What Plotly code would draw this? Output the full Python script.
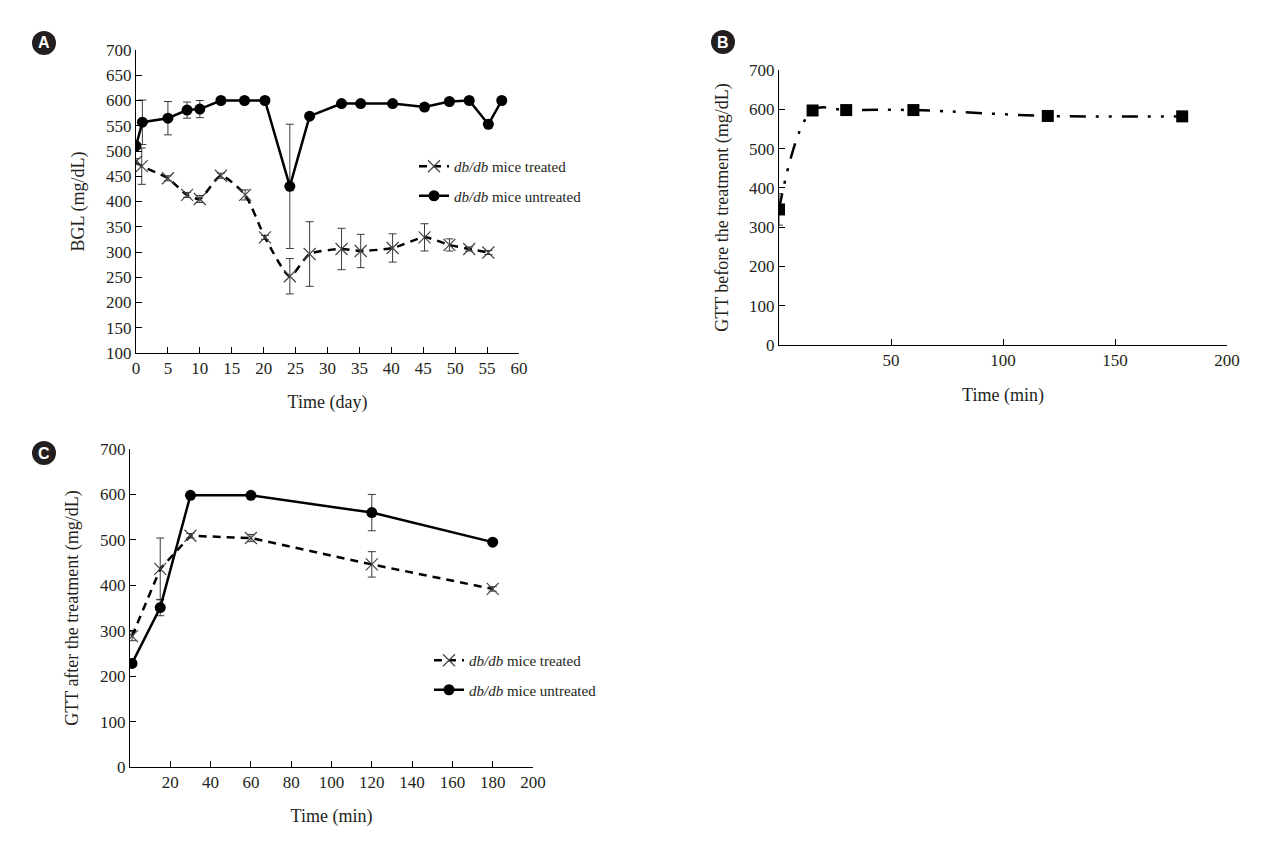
import plotly.graph_objects as go

# ---------------- Data ----------------
# Panel A: blood glucose level over days
a_days_untreated = [0, 1, 5, 8, 10, 13.3, 17, 20.2, 24.1, 27.2, 32.2, 35.2, 40.2, 45.2, 49.1, 52.2, 55.2, 57.3]
a_untreated = [510, 557, 565, 581, 583, 600, 600, 600, 430, 569, 594, 594, 594, 587, 598, 600, 553, 600]
a_untreated_err = [5, 44, 33, 16, 17, 0, 0, 0, 123, 0, 0, 0, 0, 7, 0, 0, 0, 0]

a_days_treated = [0, 0.9, 5, 8, 10, 13.3, 17.1, 20.2, 24.1, 27.2, 32.2, 35.2, 40.2, 45.2, 49.1, 52.2, 55.2]
a_treated = [479, 470, 446, 413, 405, 451, 413, 329, 252, 296, 306, 302, 308, 329, 314, 306, 299]
a_treated_err = [6, 36, 5, 5, 7, 5, 10, 4, 35, 64, 41, 33, 28, 27, 12, 4, 4]

# Panel B: GTT before the treatment
b_time = [0, 15, 30, 60, 120, 180]
b_gtt = [345, 597, 598, 598, 583, 582]
b_err = [40, 0, 0, 0, 0, 0]

# Panel C: GTT after the treatment
c_time = [1, 15, 30, 60, 120, 180]
c_treated = [288, 436, 509, 504, 446, 392]
c_treated_err = [10, 68, 5, 8, 28, 5]
c_untreated = [228, 351, 598, 598, 560, 495]
c_untreated_err = [6, 18, 0, 0, 40, 0]

a_xticks = list(range(0, 61, 5))
a_yticks = list(range(100, 701, 50))
b_xticks = [50, 100, 150, 200]
b_yticks = list(range(0, 701, 100))
c_xticks = list(range(20, 201, 20))
c_yticks = list(range(0, 701, 100))

legend_names = ["<i>db/db</i> mice treated", "<i>db/db</i> mice untreated"]

# ---------------- Styling ----------------
FONT = "Liberation Serif, Times New Roman, serif"
TXT = "#231f20"
W, H = 1270, 850
OFF = 8  # page body margin

def px_x(p):
    return (p - OFF) / W

def px_y(p):
    return 1 - (p - OFF) / H

fig = go.Figure()

err_style = dict(type="data", thickness=1, width=4, color="#3a3a3a")

# Panel A
fig.add_trace(go.Scatter(
    x=a_days_treated, y=a_treated, name=legend_names[0], mode="lines+markers",
    line=dict(color="black", width=2.5, dash="8px,6px", shape="spline", smoothing=0.6),
    marker=dict(symbol="x-thin-open", size=12, color="#444", line=dict(width=1.2, color="#444")),
    error_y=dict(array=a_treated_err, **err_style),
    xaxis="x", yaxis="y", legend="legend", legendgroup="treatedA"))
fig.add_trace(go.Scatter(
    x=a_days_untreated, y=a_untreated, name=legend_names[1], mode="lines+markers",
    line=dict(color="black", width=2.5),
    marker=dict(symbol="circle", size=11, color="black"),
    error_y=dict(array=a_untreated_err, **err_style),
    xaxis="x", yaxis="y", legend="legend", legendgroup="untreatedA"))

# Panel B
fig.add_trace(go.Scatter(
    x=b_time, y=b_gtt, name="GTT", mode="lines+markers", showlegend=False,
    line=dict(color="black", width=2.5, dash="16px,10px,3px,10px,3px,10px", shape="spline", smoothing=1.0),
    marker=dict(symbol="square", size=12, color="black"),
    error_y=dict(array=b_err, **err_style),
    xaxis="x2", yaxis="y2"))

# Panel C
fig.add_trace(go.Scatter(
    x=c_time, y=c_treated, name=legend_names[0], mode="lines+markers",
    line=dict(color="black", width=2.5, dash="8px,6px"),
    marker=dict(symbol="x-thin-open", size=12, color="#444", line=dict(width=1.2, color="#444")),
    error_y=dict(array=c_treated_err, **err_style),
    xaxis="x3", yaxis="y3", legend="legend2", legendgroup="treatedC"))
fig.add_trace(go.Scatter(
    x=c_time, y=c_untreated, name=legend_names[1], mode="lines+markers",
    line=dict(color="black", width=2.5),
    marker=dict(symbol="circle", size=11, color="black"),
    error_y=dict(array=c_untreated_err, **err_style),
    xaxis="x3", yaxis="y3", legend="legend2", legendgroup="untreatedC"))

axis_common = dict(
    showline=True, linecolor="black", linewidth=1, ticks="inside", ticklen=6,
    tickcolor="black", tickwidth=1, showgrid=False, zeroline=False, automargin=False,
    tickfont=dict(family=FONT, size=17, color=TXT), mirror=False,
)
title_font = dict(family=FONT, size=18, color=TXT)

fig.update_layout(
    width=W, height=H, paper_bgcolor="white", plot_bgcolor="white",
    margin=dict(l=0, r=0, t=0, b=0, autoexpand=False),
    font=dict(family=FONT, color=TXT),
    xaxis=dict(domain=[px_x(136), px_x(519)], range=[0, 60], tickvals=a_xticks,
               title=dict(text="Time (day)", font=title_font, standoff=17), anchor="y", **axis_common),
    yaxis=dict(domain=[px_y(353), px_y(50)], range=[100, 700], tickvals=a_yticks,
               title=dict(text="BGL (mg/dL)", font=title_font, standoff=16), anchor="x", **axis_common),
    xaxis2=dict(domain=[px_x(779), px_x(1227)], range=[0, 200], tickvals=b_xticks,
                title=dict(text="Time (min)", font=title_font, standoff=18), anchor="y2", **axis_common),
    yaxis2=dict(domain=[px_y(345), px_y(70)], range=[0, 700], tickvals=b_yticks,
                title=dict(text="GTT before the treatment (mg/dL)", font=title_font, standoff=15),
                anchor="x2", **axis_common),
    xaxis3=dict(domain=[px_x(130), px_x(533)], range=[0, 200], tickvals=c_xticks,
                title=dict(text="Time (min)", font=title_font, standoff=17), anchor="y3", **axis_common),
    yaxis3=dict(domain=[px_y(767), px_y(449)], range=[0, 700], tickvals=c_yticks,
                title=dict(text="GTT after the treatment (mg/dL)", font=title_font, standoff=16),
                anchor="x3", **axis_common),
    legend=dict(x=px_x(414), y=px_y(150), xanchor="left", yanchor="top",
                bgcolor="rgba(0,0,0,0)", font=dict(family=FONT, size=15, color=TXT),
                tracegroupgap=7, itemwidth=30),
    legend2=dict(x=px_x(429), y=px_y(644), xanchor="left", yanchor="top",
                 bgcolor="rgba(0,0,0,0)", font=dict(family=FONT, size=15, color=TXT),
                 tracegroupgap=7, itemwidth=30),
)

# Panel labels: black circles with white letters
labels = [("A", 44, 43), ("B", 723, 42), ("C", 44, 453)]
r = 12
for letter, cx, cy in labels:
    fig.add_shape(type="circle", xref="paper", yref="paper",
                  x0=px_x(cx - r), x1=px_x(cx + r), y0=px_y(cy + r), y1=px_y(cy - r),
                  fillcolor="#231f20", line=dict(color="#231f20", width=0))
    fig.add_annotation(x=px_x(cx), y=px_y(cy), xref="paper", yref="paper",
                       text=f"<b>{letter}</b>", showarrow=False,
                       font=dict(family="Liberation Sans, Arial, sans-serif", size=16, color="white"),
                       xanchor="center", yanchor="middle")

fig.write_html("out.html")
